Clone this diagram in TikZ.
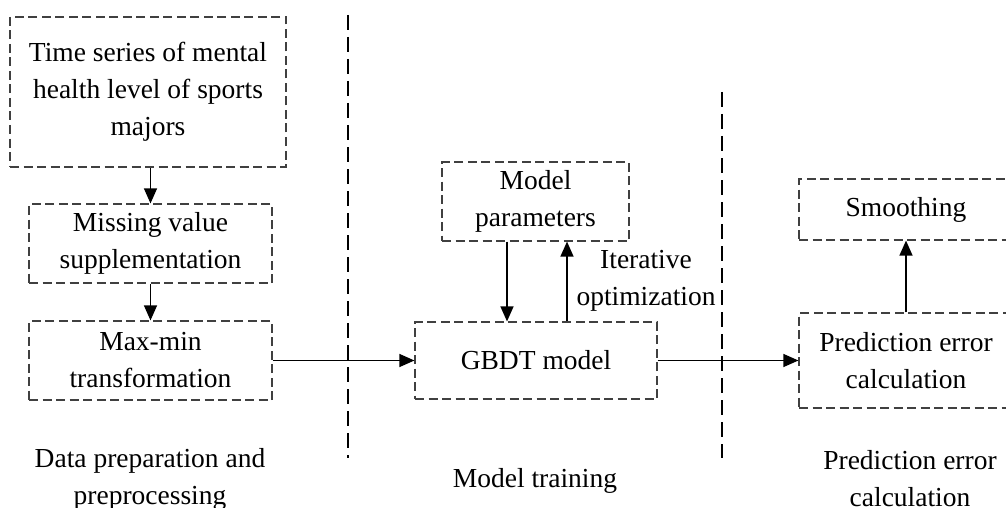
\documentclass[tikz,border=0pt]{standalone}
\usepackage{fontspec}
\setmainfont{Liberation Serif}
\usetikzlibrary{arrows.meta}
\begin{document}
\begin{tikzpicture}[x=1pt,y=-1pt,
  box/.style={draw=black!75, line width=1.2pt, dash pattern=on 9pt off 4.5pt, align=center, inner sep=0pt},
  divider/.style={draw=black, line width=1.5pt, dash pattern=on 15pt off 7pt},
  arr/.style={draw=black, line width=1.3pt, -{Triangle[length=15pt,width=13pt]}},
  lbl/.style={align=center, inner sep=0pt},
  every node/.style={font=\fontsize{27.5}{37}\selectfont}]
\useasboundingbox (0,0) rectangle (1006,508);
\clip (0,0) rectangle (1006,508);
% boxes
\node[box, minimum width=276pt, minimum height=150pt] (b1) at (148,92) {Time series of mental\\health level of sports\\majors};
\node[box, minimum width=243pt, minimum height=79pt] (b2) at (150.5,243.5) {Missing value\\supplementation};
\node[box, minimum width=243pt, minimum height=79pt] (b3) at (150.5,360.5) {Max-min\\transformation};
\node[box, minimum width=187pt, minimum height=79pt] (mp) at (535.5,201.5) {Model\\parameters};
\node[box, minimum width=242pt, minimum height=77pt] (gb) at (536,360.5) {GBDT model};
\node[box, minimum width=214pt, minimum height=61pt] (sm) at (906,209.5) {Smoothing};
\node[box, minimum width=214pt, minimum height=95pt] (pe) at (906,360.5) {Prediction error\\calculation};
% dividers
\coordinate (d1t) at (348,15);
\coordinate (d1b) at (348,458);
\coordinate (d2t) at (722,92);
\coordinate (d2b) at (722,458);
\draw[divider] (d1t) -- (d1b);
\draw[divider] (d2t) -- (d2b);
% arrows
\draw[arr] (b1.south -| b2.north) -- (b2.north);
\draw[arr] (b2.south) -- (b3.north);
\draw[arr] (b3.east) -- (gb.west);
\draw[arr] (gb.east) -- (pe.west);
\draw[arr] ([xshift=-28.5pt]mp.south) -- ([xshift=-28.5pt]mp.south |- gb.north);
\draw[arr] ([xshift=31.5pt]mp.south |- gb.north) -- ([xshift=31.5pt]mp.south);
\draw[arr] (pe.north) -- (sm.south);
% labels
\node[lbl] (it) at (646,281) {Iterative\\optimization};
\node[lbl] (l1) at (150,479) {Data preparation and\\preprocessing};
\node[lbl] (l2) at (535,481) {Model training};
\node[lbl] (l3) at (910,479) {Prediction error\\calculation};
\end{tikzpicture}
\end{document}
